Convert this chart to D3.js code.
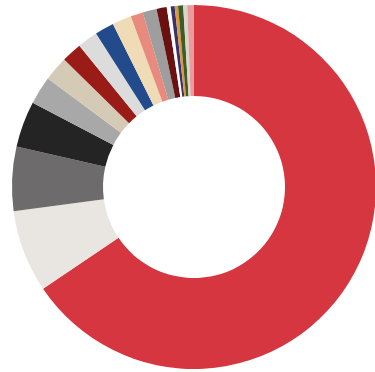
<!DOCTYPE html>
<html>
<head>
<meta charset="utf-8">
<script src="https://cdn.jsdelivr.net/npm/d3@7"></script>
<style>
  html, body { margin: 0; padding: 0; background: #ffffff; }
  svg { display: block; }
</style>
</head>
<body>
<svg id="chart" width="375" height="372"></svg>
<script>
// Share of each segment (percent), in drawing order clockwise from 12 o'clock
const categories = [
  "A", "B", "C", "D", "E", "F", "G", "H", "I", "J",
  "K", "L", "M", "N", "O", "P", "Q", "R", "S"
];
const values = [
  65.6, 7.3, 5.7, 4.1, 2.5, 2.2, 1.8, 1.8, 1.7, 1.7,
  1.1, 1.25, 0.9, 0.35, 0.35, 0.3, 0.45, 0.35, 0.6
];
const colors = [
  "#d6363f", "#e9e6e1", "#6d6b6b", "#242424", "#a8a8a8", "#d5cab5",
  "#9a1c16", "#dcdcdc", "#234a8a", "#efdcb6", "#e88a7e", "#9e9e9e",
  "#6a1010", "#ffffff", "#3c2f6e", "#d99a3c", "#3f5b2c", "#d9d6c6", "#e89ca0"
];

const svg = d3.select("#chart");
const cx = 194, cy = 187;
const outerR = 182, innerR = 91;

const data = categories.map((c, i) => ({ category: c, value: values[i] }));

const color = d3.scaleOrdinal().domain(categories).range(colors);

const pie = d3.pie().sort(null).value(d => d.value);
const arc = d3.arc().innerRadius(innerR).outerRadius(outerR);

svg.append("g")
  .attr("transform", `translate(${cx},${cy})`)
  .selectAll("path")
  .data(pie(data))
  .join("path")
  .attr("d", arc)
  .attr("fill", d => color(d.data.category));
</script>
</body>
</html>
